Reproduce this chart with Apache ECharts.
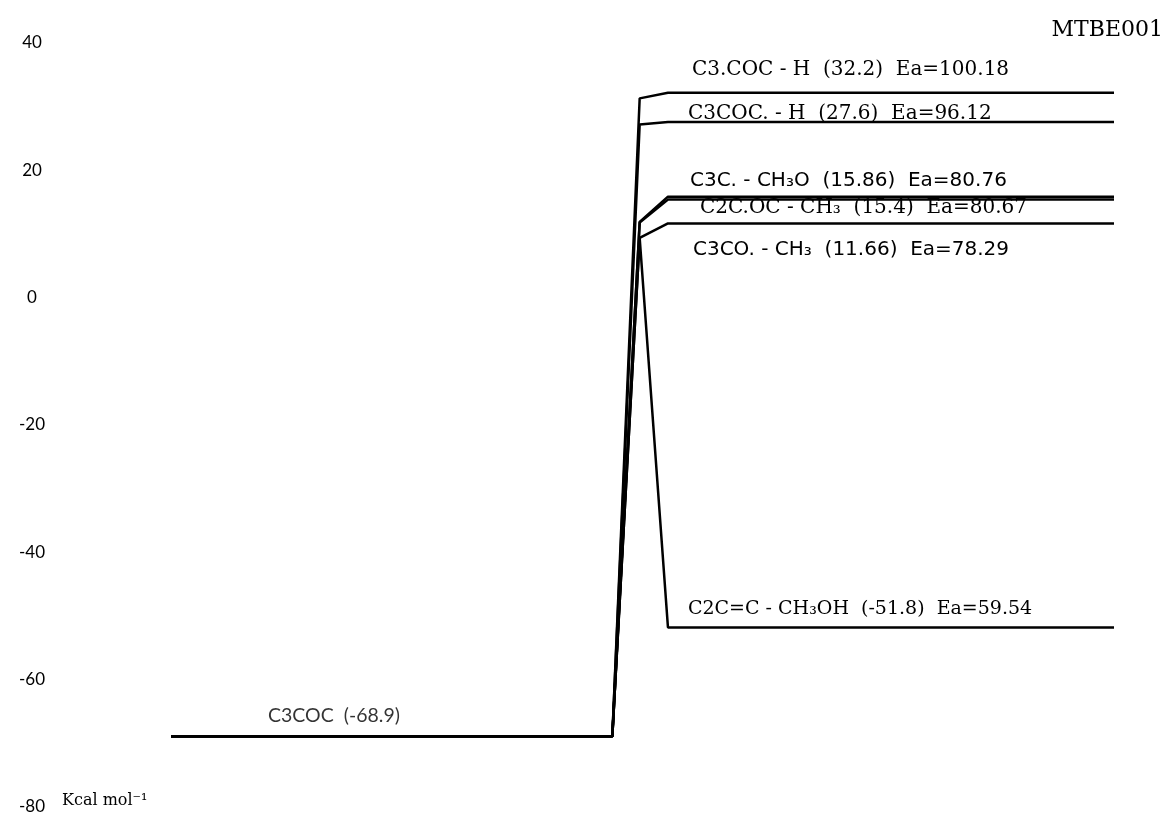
<!DOCTYPE html>
<html>
<head>
<meta charset="utf-8">
<script src="https://cdn.jsdelivr.net/npm/echarts@6/dist/echarts.min.js"></script>
<style>html,body{margin:0;padding:0;background:#fff}#c{width:1170px;height:816px}</style>
</head>
<body>
<div id="c"></div>
<script>
// Reaction coordinate positions (arbitrary units)
const reactantX = [0, 4.68];
const tsX = 4.97;
const productX = [5.27, 10];

// Energies (kcal/mol)
const reactantE = -68.9;
const reactantLabel = "C3COC  (-68.9)";
const pathLabels = [
  "C3.COC - H  (32.2)  Ea=100.18",
  "C3COC. - H  (27.6)  Ea=96.12",
  "C3C. - CH\u2083O  (15.86)  Ea=80.76",
  "C2C.OC - CH\u2083  (15.4)  Ea=80.67",
  "C3CO. - CH\u2083  (11.66)  Ea=78.29",
  "C2C=C - CH\u2083OH  (-51.8)  Ea=59.54"
];
const productE = [32.2, 27.6, 15.86, 15.4, 11.66, -51.8];
const tsE = [31.3, 27.2, 11.9, 11.8, 9.4, 9.4];
const yTicks = [-80, -60, -40, -20, 0, 20, 40];

// label styling (layout only)
const labelStyle = [
  {dx: 24, dy: -23, font: "DejaVu Serif", size: 20},
  {dx: 20, dy: -8, font: "DejaVu Serif", size: 20},
  {dx: 22, dy: -16, font: "DejaVu Sans", size: 20},
  {dx: 32, dy: 8, font: "DejaVu Serif", size: 20},
  {dx: 25, dy: 26, font: "DejaVu Sans", size: 20},
  {dx: 20, dy: -18, font: "DejaVu Serif", size: 19}
];

const series = productE.map((p, i) => ({
  type: 'line',
  symbol: 'none',
  silent: true,
  lineStyle: {color: '#000', width: 2.5},
  data: [
    [reactantX[0], reactantE],
    [reactantX[1], reactantE],
    [tsX, tsE[i]],
    {value: [productX[0], p], symbol: 'circle', symbolSize: 0,
      label: {show: true, formatter: pathLabels[i], position: [labelStyle[i].dx, labelStyle[i].dy],
        align: 'left', verticalAlign: 'middle', color: '#000',
        fontFamily: labelStyle[i].font, fontSize: labelStyle[i].size}},
    [productX[1], p]
  ]
}));

// reactant label
series.push({
  type: 'scatter',
  symbolSize: 0,
  silent: true,
  data: [{value: [reactantX[0], reactantE],
    label: {show: true, formatter: reactantLabel, position: [97, -21], align: 'left', verticalAlign: 'middle',
      color: '#000', fontFamily: 'Lato', fontSize: 19.5}}]
});

const chart = echarts.init(document.getElementById('c'));
chart.setOption({
  animation: false,
  backgroundColor: '#fff',
  title: {text: 'MTBE001', right: 2, top: 14,
    textStyle: {fontFamily: 'DejaVu Serif', fontWeight: 'normal', fontSize: 22, color: '#000'}},
  graphic: [{type: 'text', left: 62, top: 793,
    style: {text: 'Kcal mol\u207B\u00B9', fontFamily: 'DejaVu Serif', fontSize: 16, fill: '#000'}}],
  grid: {left: 171, right: 56, top: 43, bottom: 9},
  xAxis: {type: 'value', min: 0, max: 10, show: false},
  yAxis: {type: 'value', min: -80, max: 40, interval: 20,
    axisLine: {show: false}, axisTick: {show: false}, splitLine: {show: false},
    axisLabel: {align: 'center', margin: 139,
      fontFamily: 'Lato', fontSize: 17, color: '#000',
      formatter: v => yTicks.includes(v) ? String(v) : ''}},
  series: series
});
</script>
</body>
</html>
